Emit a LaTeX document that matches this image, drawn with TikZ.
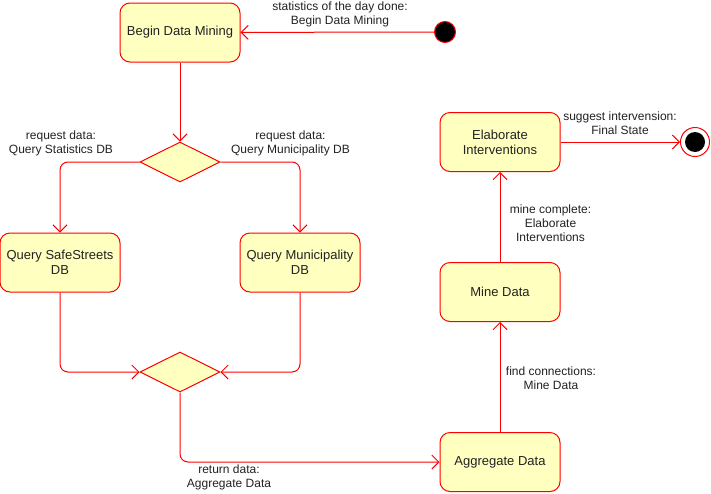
\documentclass[tikz,border=0pt]{standalone}
\usepackage{fontspec}
\setmainfont{Liberation Sans}
\usetikzlibrary{shapes.geometric,arrows.meta}
\definecolor{stfill}{HTML}{FFFFC0}
\definecolor{stline}{HTML}{FF0000}
\definecolor{txt}{HTML}{222222}
\begin{document}
\begin{tikzpicture}[x=1pt,y=-1pt,
  state/.style={draw=stline,fill=stfill,rounded corners=10pt,line width=1pt,
    minimum width=120pt,minimum height=59pt,inner sep=2pt,align=center,
    font=\fontsize{13}{15}\selectfont,text=txt},
  choice/.style={draw=stline,fill=stfill,diamond,aspect=2,line width=1pt,
    minimum width=80pt,minimum height=40pt,inner sep=0pt},
  conn/.style={draw=stline,line width=1pt,rounded corners=8pt,
    -{Straight Barb[length=7pt,width=14pt,line width=1pt]}},
  lbl/.style={font=\fontsize{12}{14}\selectfont,align=center,text=txt,inner sep=0pt}]
\useasboundingbox (0,0) rectangle (711,493);
\node[state] (begin) at (180,32.5) {Begin Data Mining};
\node[circle,fill=black,draw=stline,line width=1pt,minimum size=21pt,inner sep=0pt] (init) at (445,32) {};
\node[choice] (d1) at (180,162) {};
\node[state] (qs) at (60,262.5) {Query SafeStreets\\DB};
\node[state] (qm) at (300,262.5) {Query Municipality\\DB};
\node[choice] (d2) at (180,372) {};
\node[state] (agg) at (500,462) {Aggregate Data};
\node[state] (mine) at (500,292) {Mine Data};
\node[state] (elab) at (500,142) {Elaborate\\Interventions};
\node[circle,draw=stline,fill=white,line width=1pt,minimum size=29pt,inner sep=0pt] (fin) at (695,142) {};
\node[circle,fill=black,minimum size=20pt,inner sep=0pt] (finin) at (fin) {};

\draw[conn] (init) -- (begin);
\draw[conn] (begin) -- (d1);
\draw[conn] (d1.west) -| (qs.north);
\draw[conn] (d1.east) -| (qm.north);
\draw[conn] (qs.south) |- (d2.west);
\draw[conn] (qm.south) |- (d2.east);
\draw[conn] (d2.south) |- (agg.west);
\draw[conn] (agg) -- (mine);
\draw[conn] (mine) -- (elab);
\draw[conn] (elab) -- (fin);

\node[lbl] (l1) at (340,14.5) {statistics of the day done:\\Begin Data Mining};
\node[lbl] (l2) at (61,143.5) {request data:\\Query Statistics DB};
\node[lbl] (l3) at (290.5,143.5) {request data:\\Query Municipality DB};
\node[lbl] (l4) at (229,477) {return data:\\Aggregate Data};
\node[lbl] (l5) at (551,378.5) {find connections:\\Mine Data};
\node[lbl] (l6) at (550.5,223.5) {mine complete:\\Elaborate\\Interventions};
\node[lbl] (l7) at (620,123.5) {suggest intervension:\\Final State};
\end{tikzpicture}
\end{document}
